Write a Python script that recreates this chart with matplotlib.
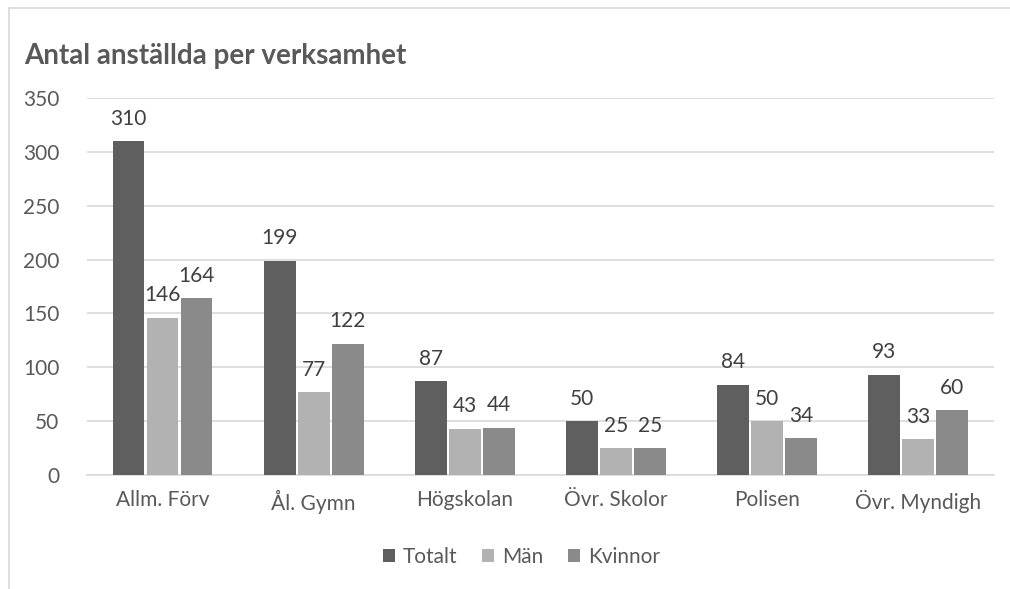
import matplotlib.pyplot as plt
import numpy as np
from matplotlib.lines import Line2D

categories = ["Allm. Förv", "Ål. Gymn", "Högskolan", "Övr. Skolor", "Polisen", "Övr. Myndigh"]
totalt = [310, 199, 87, 50, 84, 93]
man = [146, 77, 43, 25, 50, 33]
kvinnor = [164, 122, 44, 25, 34, 60]

series = [("Totalt", totalt, "#5f5f5f"), ("Män", man, "#b2b2b2"), ("Kvinnor", kvinnor, "#8a8a8a")]

plt.rcParams["font.family"] = ["Lato", "DejaVu Sans"]
text_color = "#595959"

fig = plt.figure(figsize=(10.1, 5.89), dpi=100)
ax = fig.add_axes([0.0861, 0.1935, 0.898, 0.6401])

x = np.arange(len(categories))
width = 0.21
step = 0.225
for i, (name, vals, color) in enumerate(series):
    bars = ax.bar(x + (i - 1) * step, vals, width, color=color, label=name, zorder=3)
    ax.bar_label(bars, padding=9, fontsize=15, color="#404040")

ax.set_xlim(-0.5, len(categories) - 0.5)
ax.set_ylim(0, 350)
ax.set_yticks(range(0, 351, 50))
ax.yaxis.grid(True, color="#d9d9d9", linewidth=1.2, zorder=0)
ax.set_xticks(x)
ax.set_xticklabels(categories)
ax.tick_params(axis="both", length=0, labelsize=15, labelcolor=text_color)
ax.tick_params(axis="y", pad=20)
ax.tick_params(axis="x", pad=11)
for side in ["top", "right", "left"]:
    ax.spines[side].set_visible(False)
ax.spines["bottom"].set_color("#d9d9d9")
ax.spines["bottom"].set_linewidth(1.2)

fig.text(0.024, 0.905, "Antal anställda per verksamhet", fontsize=20, fontweight="bold",
         color=text_color, ha="left", va="center")

fig.legend(loc="center", bbox_to_anchor=(0.516, 0.054), ncol=3, frameon=False,
           fontsize=15, labelcolor=text_color, handlelength=0.6, handleheight=0.6,
           handletextpad=0.35, columnspacing=1.2)

# chart frame (top and left edges visible)
fig.add_artist(Line2D([9 / 1010, 9 / 1010], [0, 1 - 8 / 589], transform=fig.transFigure,
                      color="#d9d9d9", linewidth=1.2))
fig.add_artist(Line2D([9 / 1010, 1], [1 - 8 / 589, 1 - 8 / 589], transform=fig.transFigure,
                      color="#d9d9d9", linewidth=1.2))

fig.savefig("out.png", dpi=100)
